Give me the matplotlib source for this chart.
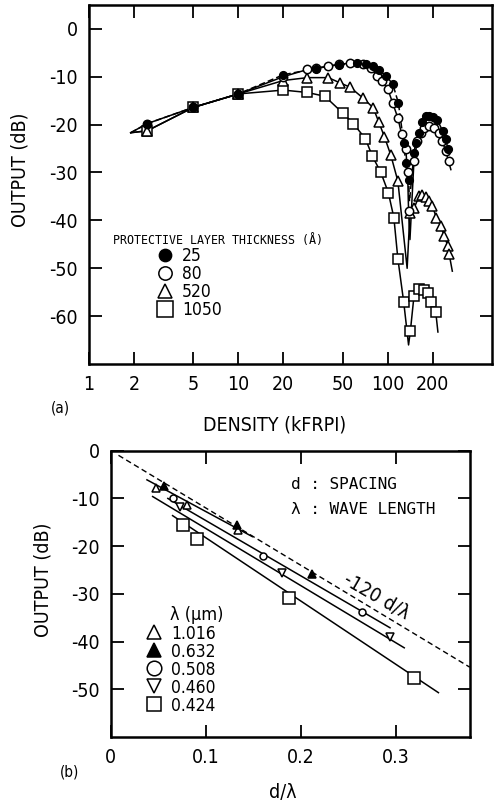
import matplotlib
matplotlib.use("Agg")
import matplotlib.pyplot as plt
from matplotlib.lines import Line2D
from matplotlib.ticker import NullLocator

plt.rcParams['font.family'] = ['DejaVu Sans']
plt.rcParams['font.stretch'] = 'condensed'
plt.rcParams['axes.unicode_minus'] = False

# (a) output vs density, one series per protective layer thickness (Å)
thick_labels = ["25", "80", "520", "1050"]

t25_x = [2.45, 5, 10, 20, 33, 47, 62, 72, 80, 88, 97, 108, 118, 128, 132, 138,
         150, 154, 162, 171, 180, 190, 200, 215, 233, 245, 253]
t25_y = [-19.8, -16.4, -13.6, -9.6, -8.3, -7.5, -7.2, -7.3, -7.8, -8.7, -9.8, -11.5, -15.5, -23.8, -28, -31.5,
         -26, -23.8, -21.7, -19.5, -18.3, -18.2, -18.4, -19, -21.3, -23, -25]

t80_x = [2.45, 5, 10, 20, 29, 33, 40, 47, 56, 68, 77, 85, 92, 100, 108, 117, 124, 132, 136, 138,
         150, 158, 167, 175, 188, 204, 219, 232, 245, 256]
t80_y = [-19.8, -16.4, -13.6, -10, -8.5, -8.2, -7.8, -7.4, -7.2, -7.3, -8.2, -9.8, -11, -12.5, -15.5, -18.6, -22, -25, -30, -38,
         -27.5, -23.5, -21.7, -20.7, -20.4, -20.7, -21.7, -23.5, -25.5, -27.7]

t520_x = [2.45, 5, 10, 20, 29, 40, 48, 56, 68, 80, 87, 95, 105, 117,
          141, 150, 162, 171, 180, 188, 199, 212, 227, 240, 253, 258]
t520_y = [-21.3, -16.4, -13.6, -10.8, -10.2, -10.2, -11.3, -12.2, -14.4, -16.5, -19.4, -22.5, -26.4, -31.8,
          -38.5, -37.5, -35, -34.6, -35.2, -36, -37, -39.4, -41.2, -43.3, -45.4, -47]

t1050_x = [2.45, 5, 10, 20, 29, 38, 50, 59, 71, 79, 90, 101, 110, 117, 128, 142,
           150, 162, 176, 185, 194, 210]
t1050_y = [-21.3, -16.4, -13.6, -12.8, -13.3, -14.1, -17.6, -19.8, -23, -26.6, -30, -34.2, -39.4, -48, -57, -63,
           -55.8, -54.4, -54.6, -55.2, -57, -59.2]

# extra points of the drawn curves: common start, notch bottom, tail end
curve_start = (1.9, -21.7)
notch = {"25": (140, -36), "80": (141, -44), "520": (135, -50), "1050": (138, -66)}
tail = {"25": (258, -27), "80": (265, -29.4), "520": (271, -50.6), "1050": (217, -63.3)}

# (b) output vs d/lambda, one series per wavelength (um)
wave_labels = ["1.016", "0.632", "0.508", "0.460", "0.424"]
w1016_x = [0.048, 0.080, 0.134]
w1016_y = [-7.8, -11.3, -16.6]
w632_x = [0.056, 0.133, 0.212]
w632_y = [-7.3, -15.5, -25.8]
w508_x = [0.065, 0.160, 0.265]
w508_y = [-9.9, -22.1, -33.7]
w460_x = [0.073, 0.180, 0.294]
w460_y = [-11.8, -25.6, -39.0]
w424_x = [0.076, 0.091, 0.188, 0.319]
w424_y = [-15.5, -18.5, -30.8, -47.6]

# fitted straight lines (end points)
fit_x = [[0.038, 0.149], [0.060, 0.294], [0.044, 0.309], [0.065, 0.345]]
fit_y = [[-6.1, -18.0], [-10.0, -37.1], [-9.6, -41.3], [-13.6, -50.7]]
slope_ref = -120
ref_x = [0.008, 0.378]

MK = dict(color="black", markeredgecolor="black", markeredgewidth=1.1)

fig = plt.figure(figsize=(4.95, 8.02), dpi=100)

# ---------- panel (a)
ax1 = fig.add_axes([0.180, 0.546, 0.814, 0.448])
ax1.set_xscale("log")

styles = {
    "25": dict(marker="o", markerfacecolor="black", ms=5.5),
    "80": dict(marker="o", markerfacecolor="white", ms=6),
    "520": dict(marker="^", markerfacecolor="white", ms=6.5),
    "1050": dict(marker="s", markerfacecolor="white", ms=7),
}
series = {"25": (t25_x, t25_y), "80": (t80_x, t80_y),
          "520": (t520_x, t520_y), "1050": (t1050_x, t1050_y)}

for lab in thick_labels:
    xs, ys = series[lab]
    pts = sorted(list(zip(xs, ys)) + [curve_start, notch[lab], tail[lab]])
    cx = [p[0] for p in pts]
    cy = [p[1] for p in pts]
    if lab == "25":
        ax1.plot(cx, cy, color="black", lw=1.1, zorder=2, dashes=(4, 2))
    else:
        ax1.plot(cx, cy, "-", color="black", lw=1.1, zorder=2)

for lab in ["1050", "520", "80", "25"]:
    xs, ys = series[lab]
    ax1.plot(xs, ys, ls="none", zorder=3, **MK, **styles[lab])

ax1.set_xlim(1, 500)
ax1.set_ylim(-70, 5)
ax1.set_xticks([1, 2, 5, 10, 20, 50, 100, 200])
ax1.set_xticklabels(["1", "2", "5", "10", "20", "50", "100", "200"])
ax1.xaxis.set_minor_locator(NullLocator())
ax1.set_yticks([0, -10, -20, -30, -40, -50, -60])
ax1.tick_params(direction="in", top=True, right=True, length=9, width=1.3,
                labelsize=14, pad=8)
for s in ax1.spines.values():
    s.set_linewidth(1.8)

ax1.text(0.06, 0.343, "PROTECTIVE LAYER THICKNESS (Å)", transform=ax1.transAxes,
         family=["DejaVu Sans Mono"], fontsize=8.4, va="center", ha="left")
h1 = [Line2D([], [], ls="none", **MK, **dict(styles[l], ms=styles[l]["ms"] * 1.6)) for l in thick_labels]
ax1.legend(h1, thick_labels, loc="upper left", bbox_to_anchor=(0.166, 0.326),
           frameon=False, fontsize=12.5, handlelength=1.0, handletextpad=0.5,
           labelspacing=0.0, borderpad=0, borderaxespad=0)

fig.text(60 / 495, 1 - 408 / 802, "(a)", fontsize=11, ha="center", va="center")
fig.text(275 / 495, 1 - 425 / 802, "DENSITY (kFRPI)", fontsize=14, ha="center", va="center")
fig.text(20 / 495, 1 - 170 / 802, "OUTPUT (dB)", fontsize=14, ha="center", va="center", rotation=90)

# ---------- panel (b)
ax2 = fig.add_axes([0.224, 0.081, 0.725, 0.357])
ax2.plot(ref_x, [slope_ref * v for v in ref_x], color="black", lw=1.0, dashes=(4, 2.5))
for fx, fy in zip(fit_x, fit_y):
    ax2.plot(fx, fy, "-", color="black", lw=1.1)

wstyles = [
    dict(marker="^", markerfacecolor="white", ms=6),
    dict(marker="^", markerfacecolor="black", ms=6),
    dict(marker="o", markerfacecolor="white", ms=5),
    dict(marker="v", markerfacecolor="white", ms=6),
    dict(marker="s", markerfacecolor="white", ms=8),
]
wdata = [(w1016_x, w1016_y), (w632_x, w632_y), (w508_x, w508_y),
         (w460_x, w460_y), (w424_x, w424_y)]
for (xs, ys), st in zip(wdata, wstyles):
    ax2.plot(xs, ys, ls="none", zorder=3, **MK, **st)

ax2.set_xlim(0, 0.378)
ax2.set_ylim(-60, 0)
ax2.set_xticks([0, 0.1, 0.2, 0.3])
ax2.set_xticklabels(["0", "0.1", "0.2", "0.3"])
ax2.set_yticks([0, -10, -20, -30, -40, -50])
ax2.tick_params(direction="in", top=True, right=True, length=9, width=1.3,
                labelsize=14, pad=8)
for s in ax2.spines.values():
    s.set_linewidth(1.8)

ax2.text(0.28, -30.6, "-120 d/λ", fontsize=14, rotation=-30, ha="center", va="center")
ax2.text(0.19, -7.1, "d : SPACING", family=["DejaVu Sans Mono"], fontsize=11.5, va="center")
ax2.text(0.19, -12.4, "λ : WAVE LENGTH", family=["DejaVu Sans Mono"], fontsize=11.5, va="center")

ax2.text(0.165, 0.427, "λ (μm)", transform=ax2.transAxes, fontsize=13, va="center", ha="left")
h2 = [Line2D([], [], ls="none", **MK, **dict(st, ms=10.5)) for st in wstyles]
ax2.legend(h2, wave_labels, loc="upper left", bbox_to_anchor=(0.095, 0.393),
           frameon=False, fontsize=12.5, handlelength=1.0, handletextpad=0.5,
           labelspacing=0.0, borderpad=0, borderaxespad=0)

fig.text(70 / 495, 1 - 772 / 802, "(b)", fontsize=11, ha="center", va="center")
fig.text(283 / 495, 1 - 792 / 802, "d/λ", fontsize=14, ha="center", va="center")
fig.text(43 / 495, 1 - 580 / 802, "OUTPUT (dB)", fontsize=14, ha="center", va="center", rotation=90)

fig.savefig("out.png", dpi=100)
